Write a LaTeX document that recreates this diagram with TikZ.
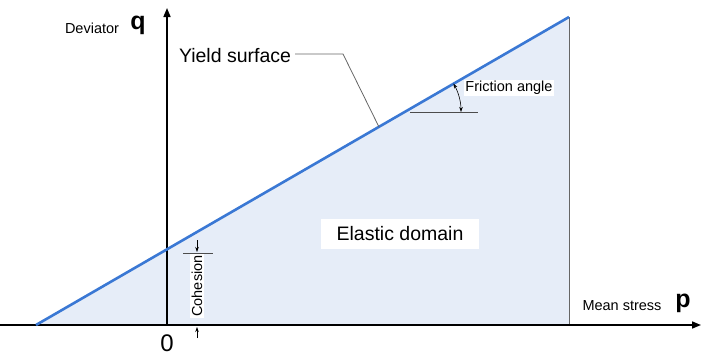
\documentclass[tikz,border=0pt]{standalone}
\usepackage{fontspec}
\setmainfont{Liberation Sans}
\usetikzlibrary{arrows.meta}

\definecolor{yieldblue}{RGB}{58,120,212}
\definecolor{domainfill}{RGB}{230,237,248}

\begin{document}
\begin{tikzpicture}[x=1pt,y=-1pt]
    \tikzstyle{axis}=[draw=black, line width=1.6pt, -{Triangle[length=9pt,width=7pt]}];
    \tikzstyle{thin}=[draw=black!60, line width=0.8pt];
    \tikzstyle{small}=[font=\fontsize{14.5}{17}\selectfont, inner sep=1.5pt];
    \tikzstyle{big}=[font=\fontsize{19.5}{23}\selectfont, inner sep=1pt];
    \tikzstyle{axlabel}=[font=\fontsize{25}{28}\bfseries\selectfont, inner sep=0];
    \tikzstyle{tip}=[-{Stealth[length=5pt,width=3.5pt]}, line width=0.6pt];

    \useasboundingbox (0,0) rectangle (701,356);

    \coordinate (pstart) at (0,325);
    \coordinate (pend)   at (701,325);
    \coordinate (origin) at (167,325);
    \coordinate (qend)   at (167,8);
    \coordinate (ystart) at (36,325);
    \coordinate (yend)   at (569,17);
    \coordinate (ybase)  at (569,325);

    % elastic domain
    \fill[domainfill] (ystart) -- (yend) -- (ybase) -- cycle;
    \draw[thin] (yend) -- (ybase);

    \draw[axis] (pstart) -- (pend);
    \draw[axis] (origin) -- (qend);

    \draw[yieldblue, line width=2.6pt] (ystart) -- (yend);

    % labels
    \node[small] at (92,28) (dev) {Deviator};
    \node[axlabel] at (138,25) (q) {q};
    \node[small] at (622,306) (mean) {Mean stress};
    \node[axlabel] at (683,303) (p) {p};
    \node[font=\fontsize{24}{28}\selectfont, inner sep=0] at (167,343) (zero) {0};

    \node[big] at (235,56) (ysurf) {Yield surface};
    \coordinate (ybend) at (343,54);
    \coordinate (yhit) at (379,127);
    \draw[thin] (ysurf.east) ++(3,-2) coordinate (yleft) -- (ybend) -- (yhit);

    \node[big, fill=white, minimum width=158pt, minimum height=30pt] at (400,234) (elastic) {Elastic domain};

    % friction angle
    \coordinate (fcorner) at (404,112);
    \coordinate (fleft) at (410,112);
    \coordinate (fright) at (478,112);
    \draw[thin, draw=black!70] (fleft) -- (fright);
    \draw[tip, {Stealth[length=5pt,width=3.5pt]}-{Stealth[length=5pt,width=3.5pt]}]
        (fcorner) ++(-30:57) arc[start angle=-30, end angle=0, radius=57];
    \node[small, fill=white] at (509,88) (fric) {Friction angle};

    % cohesion
    \coordinate (cleft) at (183,253);
    \coordinate (cright) at (213,253);
    \draw[thin, draw=black!70] (cleft) -- (cright);
    \coordinate (ctop1) at (197,240);
    \coordinate (ctop2) at (197,252);
    \coordinate (cbot1) at (197,338);
    \coordinate (cbot2) at (197,327);
    \draw[tip] (ctop1) -- (ctop2);
    \draw[tip] (cbot1) -- (cbot2);
    \node[small, fill=white, rotate=90] at (197,286) (coh) {Cohesion};
\end{tikzpicture}
\end{document}
